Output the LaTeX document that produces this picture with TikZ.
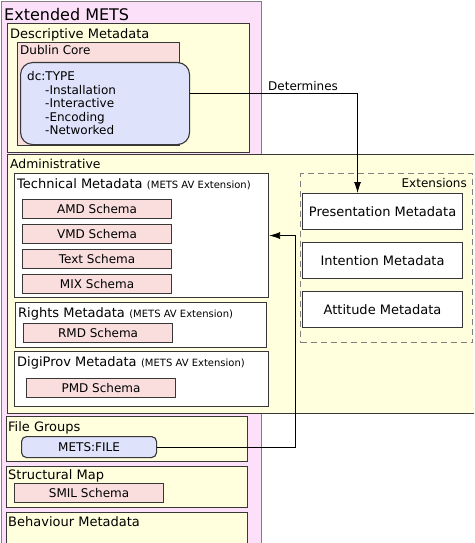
\documentclass[tikz,border=0pt]{standalone}
\usepackage{fontspec}
\setmainfont{DejaVu Sans}
\usepackage{tikz}
\usetikzlibrary{arrows.meta,positioning}
\definecolor{metspink}{RGB}{252,224,250}
\definecolor{paleyellow}{RGB}{255,255,222}
\definecolor{schemapink}{RGB}{250,222,222}
\definecolor{paleblue}{RGB}{222,226,250}
\definecolor{edgegrey}{RGB}{55,55,55}

\begin{document}
\begin{tikzpicture}[x=1pt,y=-1pt,
    font=\fontsize{12}{14}\selectfont,
    >={Latex[length=11pt,width=7pt]},
    area/.style={rectangle,draw=edgegrey,line width=1.1pt,anchor=north west,inner sep=0pt},
    schema/.style={rectangle,draw=edgegrey,line width=1.1pt,fill=schemapink,anchor=north west,minimum width=149pt,minimum height=19pt,inner sep=0pt},
    extbox/.style={rectangle,draw=edgegrey,line width=1.1pt,fill=white,anchor=north west,minimum width=160pt,minimum height=36pt,inner sep=0pt,font=\fontsize{13}{15}\selectfont},
    lbl/.style={anchor=base west,inner sep=0pt},
    head/.style={lbl,font=\fontsize{13}{15}\selectfont},
    small/.style={font=\fontsize{10}{12}\selectfont},
    conn/.style={->,draw=black,line width=0.8pt}]

    \clip (0,0) rectangle (474,543);

    % Extended METS (outer)
    \node[area,fill=metspink,draw=black!50,minimum width=260pt,minimum height=580pt] (mets) at (1,1) {};
    \node[lbl,font=\fontsize{16}{18}\selectfont] (metslbl) at (4,21) {Extended METS};

    % Descriptive metadata
    \node[area,fill=paleyellow,minimum width=242pt,minimum height=129pt] (desc) at (7,23) {};
    \node[head] (desclbl) at (10,38) {Descriptive Metadata};
    \node[area,fill=schemapink,minimum width=162pt,minimum height=103pt] (dublin) at (17,42) {};
    \node[lbl] (dublinlbl) at (20,55) {Dublin Core};
    \node[area,fill=paleblue,rounded corners=12pt,minimum width=169pt,minimum height=82pt] (dctype) at (20,62) {};
    \node[lbl] (dctypelbl) at (27,80) {dc:TYPE};
    \node[lbl] (install) at (45,94) {-Installation};
    \node[lbl] (interact) at (45,107.5) {-Interactive};
    \node[lbl] (encode) at (45,121) {-Encoding};
    \node[lbl] (network) at (45,134.5) {-Networked};

    % Administrative
    \node[area,fill=paleyellow,minimum width=473pt,minimum height=259pt] (admin) at (7,154) {};
    \node[lbl,font=\fontsize{12.4}{14}\selectfont] (adminlbl) at (10,168) {Administrative};
    \node[area,fill=white,minimum width=254pt,minimum height=124pt] (techmd) at (14,173) {};
    \node[head] (techlbl) at (17,188) {Technical Metadata};
    \node[lbl,small,xshift=4pt] (techext) at (techlbl.base east) {(METS AV Extension)};
    \node[schema] (amd) at (22,199) {AMD Schema};
    \node[schema,below=5pt of amd] (vmd) {VMD Schema};
    \node[schema,below=5pt of vmd] (textsch) {Text Schema};
    \node[schema,below=5pt of textsch] (mix) {MIX Schema};

    \node[area,fill=white,minimum width=251pt,minimum height=45pt] (rightsmd) at (15,302) {};
    \node[head] (rightslbl) at (18,317) {Rights Metadata};
    \node[lbl,small,xshift=4pt] (rightsext) at (rightslbl.base east) {(METS AV Extension)};
    \node[schema] (rmd) at (23,323) {RMD Schema};

    \node[area,fill=white,minimum width=254pt,minimum height=55pt] (digiprov) at (14,351) {};
    \node[head] (digilbl) at (17,366) {DigiProv Metadata};
    \node[lbl,small,xshift=4pt] (digiext) at (digilbl.base east) {(METS AV Extension)};
    \node[schema] (pmd) at (26,378) {PMD Schema};

    % Extensions
    \node[area,draw=gray,dashed,dash pattern=on 6pt off 4pt,minimum width=172pt,minimum height=169pt] (extarea) at (300,173) {};
    \node[anchor=base east,inner sep=0pt] (extlbl) at (467,187) {Extensions};
    \node[extbox] (presmd) at (302,193) {Presentation Metadata};
    \node[extbox,below=12pt of presmd] (intmd) {Intention Metadata};
    \node[extbox,below=12pt of intmd] (attmd) {Attitude Metadata};

    % File groups, structural map, behaviour
    \node[area,fill=paleyellow,minimum width=241pt,minimum height=45pt] (filegrp) at (6,416) {};
    \node[head] (filelbl) at (8,431) {File Groups};
    \node[area,fill=paleblue,rounded corners=5pt,minimum width=135pt,minimum height=21pt] (metsfile) at (21,436) {};
    \node (metsfilelbl) at (metsfile.center) {METS:FILE};
    \node[area,fill=paleyellow,minimum width=241pt,minimum height=41pt] (structmap) at (6,466) {};
    \node[head] (structlbl) at (8,479) {Structural Map};
    \node[schema] (smil) at (14,483) {SMIL Schema};
    \node[area,fill=paleyellow,minimum width=241pt,minimum height=50pt] (behave) at (6,512) {};
    \node[head] (behavelbl) at (8,526) {Behaviour Metadata};

    % Connectors
    \draw[conn] ([yshift=10pt]dctype.east) -| ([xshift=-25pt]presmd.north);
    \node[lbl] (detlbl) at (268,90) {Determines};
    \coordinate (fgbend) at (295,447);
    \draw[conn] (metsfile.east) -- (metsfile.east -| fgbend) |- (techmd.east);
\end{tikzpicture}
\end{document}
